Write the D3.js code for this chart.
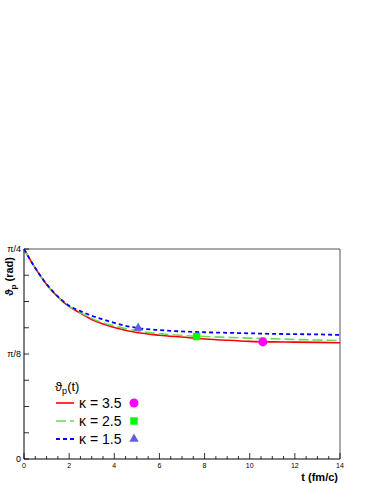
<!DOCTYPE html>
<html>
<head>
<meta charset="utf-8">
<script src="https://cdn.jsdelivr.net/npm/d3@7"></script>
<style>
  body { margin: 0; background: #fff; }
  svg { display: block; font-family: "Liberation Sans", Arial, sans-serif; }
</style>
</head>
<body>
<svg id="chart" width="374" height="484"></svg>
<script>
// time grid (fm/c)
const times = [0, 0.5, 1, 1.5, 2, 2.5, 3, 3.5, 4, 5, 6, 7, 8, 9, 10, 11, 12, 13, 14];
// theta_p(t) in rad
const kappa35 = [0.785, 0.714, 0.653, 0.606, 0.570, 0.546, 0.522, 0.505, 0.492, 0.473, 0.463, 0.456, 0.449, 0.444, 0.440, 0.438, 0.437, 0.436, 0.435];
const kappa25 = [0.785, 0.714, 0.653, 0.606, 0.571, 0.548, 0.526, 0.510, 0.498, 0.479, 0.469, 0.462, 0.458, 0.455, 0.452, 0.450, 0.447, 0.445, 0.443];
const kappa15 = [0.785, 0.714, 0.654, 0.608, 0.573, 0.553, 0.536, 0.522, 0.509, 0.490, 0.482, 0.477, 0.474, 0.472, 0.470, 0.468, 0.467, 0.466, 0.464];
// one marker per curve
const markerT = [10.58, 7.65, 5.06];
const markerV = [0.438, 0.458, 0.490];
const legendLabels = ['κ = 3.5', 'κ = 2.5', 'κ = 1.5'];
const xTicks = [0, 2, 4, 6, 8, 10, 12, 14];

const series = [
  { values: kappa35, color: '#ff0000', dash: null, width: 1.6, marker: 'circle', mcolor: '#ff00ff', msize: 64 },
  { values: kappa25, color: '#66dd55', dash: '10,4', width: 1.6, marker: 'square', mcolor: '#00ff00', msize: 56 },
  { values: kappa15, color: '#0000ff', dash: '4,3', width: 1.8, marker: 'triangle', mcolor: '#6060d8', msize: 38 }
];

const svg = d3.select('#chart');
const margin = { left: 24, right: 34, top: 249, bottom: 25 };
const W = 374, H = 484;

const x = d3.scaleLinear().domain([0, 14]).range([margin.left, W - margin.right]);
const y = d3.scaleLinear().domain([0, Math.PI / 4]).range([H - margin.bottom, margin.top]);

// frame (top and right)
svg.append('path')
  .attr('d', `M${x(0)},${y(Math.PI / 4)}H${x(14)}V${y(0)}`)
  .attr('fill', 'none')
  .attr('stroke', '#555')
  .attr('stroke-width', 1);

// x axis
const xAxis = svg.append('g');
const xMinor = d3.range(0, 14.01, 0.5);
xAxis.selectAll('line.minor').data(xMinor).join('line')
  .attr('x1', d => x(d)).attr('x2', d => x(d))
  .attr('y1', y(0)).attr('y2', d => y(0) - (d % 2 === 0 ? 6 : 3))
  .attr('stroke', '#000').attr('stroke-width', 0.8);
xAxis.append('line')
  .attr('x1', x(0)).attr('x2', x(14)).attr('y1', y(0)).attr('y2', y(0))
  .attr('stroke', '#000').attr('stroke-width', 1);
xAxis.selectAll('text').data(xTicks).join('text')
  .attr('x', d => x(d)).attr('y', y(0) + 9)
  .attr('text-anchor', 'middle')
  .attr('font-size', 7)
  .text(d => d);

svg.append('text')
  .attr('x', x(14) - 2).attr('y', 481)
  .attr('text-anchor', 'end')
  .attr('font-size', 11).attr('font-weight', 'bold')
  .text('t (fm/c)');

// y axis
const yAxis = svg.append('g');
const yMinor = d3.range(0, 9).map(i => i * Math.PI / 32);
yAxis.selectAll('line').data(yMinor).join('line')
  .attr('x1', x(0)).attr('x2', x(0) + 5)
  .attr('y1', d => y(d)).attr('y2', d => y(d))
  .attr('stroke', '#000').attr('stroke-width', 0.8);
yAxis.append('line')
  .attr('x1', x(0)).attr('x2', x(0)).attr('y1', y(0)).attr('y2', y(Math.PI / 4))
  .attr('stroke', '#000').attr('stroke-width', 1);
const yLabels = [
  { v: 0, t: '0' },
  { v: Math.PI / 8, t: 'π/8' },
  { v: Math.PI / 4, t: 'π/4' }
];
yAxis.selectAll('text').data(yLabels).join('text')
  .attr('x', x(0) - 3).attr('y', d => y(d.v) + 3)
  .attr('text-anchor', 'end')
  .attr('font-size', 9)
  .text(d => d.t);

const ytitle = svg.append('text')
  .attr('transform', `translate(13, ${y(Math.PI / 4) + 8}) rotate(-90)`)
  .attr('text-anchor', 'end')
  .attr('font-size', 11).attr('font-weight', 'bold');
ytitle.append('tspan').text('ϑ');
ytitle.append('tspan').attr('font-size', 8).attr('dy', 3).text('p');
ytitle.append('tspan').attr('dy', -3).text(' (rad)');

// curves
const line = d3.line()
  .x((d, i) => x(times[i]))
  .y(d => y(d))
  .curve(d3.curveMonotoneX);

const symbolFor = { circle: d3.symbolCircle, square: d3.symbolSquare, triangle: d3.symbolTriangle };

series.forEach(s => {
  svg.append('path')
    .datum(s.values)
    .attr('d', line)
    .attr('fill', 'none')
    .attr('stroke', s.color)
    .attr('stroke-width', s.width)
    .attr('stroke-dasharray', s.dash);
});

series.forEach((s, i) => {
  svg.append('path')
    .attr('d', d3.symbol().type(symbolFor[s.marker]).size(s.msize)())
    .attr('transform', `translate(${x(markerT[i])},${y(markerV[i])})`)
    .attr('fill', s.mcolor);
});

// legend
const leg = svg.append('g').attr('transform', 'translate(55,0)');
const lt = leg.append('text').attr('x', 0).attr('y', 391).attr('font-size', 13);
lt.append('tspan').text('ϑ');
lt.append('tspan').attr('font-size', 9).attr('dy', 3).text('p');
lt.append('tspan').attr('dy', -3).text('(t)');

series.forEach((s, i) => {
  const yy = 403 + i * 18;
  leg.append('line')
    .attr('x1', 1).attr('x2', 19).attr('y1', yy).attr('y2', yy)
    .attr('stroke', s.color).attr('stroke-width', s.width)
    .attr('stroke-dasharray', s.dash);
  leg.append('text')
    .attr('x', 24).attr('y', yy + 5)
    .attr('font-size', 14)
    .text(legendLabels[i]);
  leg.append('path')
    .attr('d', d3.symbol().type(symbolFor[s.marker]).size(s.msize)())
    .attr('transform', `translate(79,${yy})`)
    .attr('fill', s.mcolor);
});
</script>
</body>
</html>
